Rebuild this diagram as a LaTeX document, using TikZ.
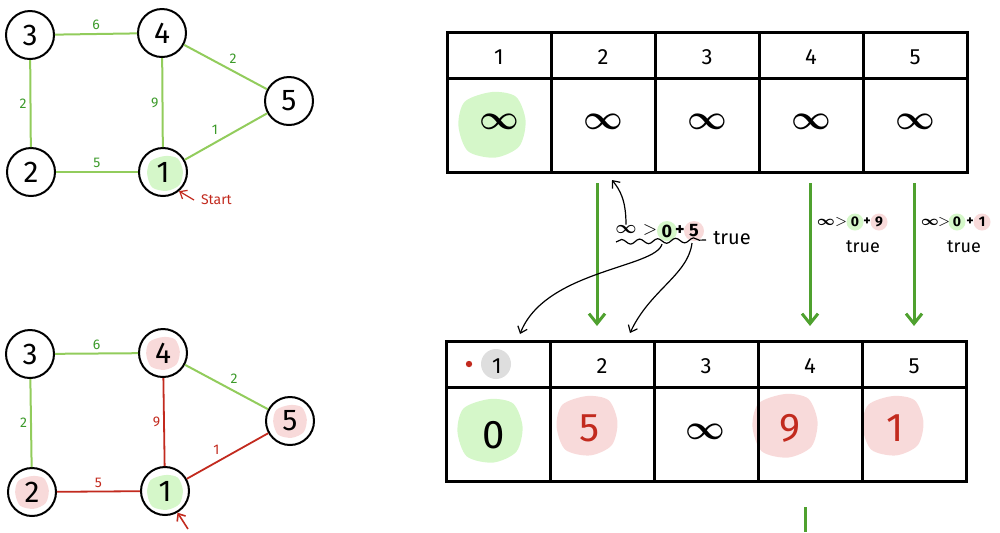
\documentclass[tikz,border=0pt]{standalone}
\usepackage{amsmath}
\usepackage{fontspec}
\setmainfont{Fira Sans}
\usetikzlibrary{arrows.meta,decorations.pathmorphing}
\definecolor{kenarYesil}{HTML}{92CC5C}
\definecolor{etiketYesil}{HTML}{3C9A2A}
\definecolor{okYesil}{HTML}{4FA12F}
\definecolor{koyuKirmizi}{HTML}{C22A1E}
\definecolor{acikPembe}{HTML}{F8DADA}
\definecolor{acikYesil}{HTML}{D5F7C9}
\definecolor{acikGri}{HTML}{DEDEDE}
% lekeli arka plan
\newcommand{\leke}[4]{\fill[#3,shift={(#1,#2)},scale=#4] plot[smooth cycle]
  coordinates {(0,-1) (0.75,-0.85) (1.05,-0.1) (0.85,0.7) (0.1,1.05) (-0.75,0.85) (-1.05,0.05) (-0.85,-0.7)};}

\begin{document}
\begin{tikzpicture}[x=0.5pt,y=-0.5pt,
  dugum/.style={circle,draw,line width=1pt,minimum size=24pt,inner sep=0pt,font=\fontsize{15}{15}\selectfont},
  kenar/.style={kenarYesil,line width=1pt},
  kkenar/.style={koyuKirmizi,line width=0.9pt},
  agirlik/.style={etiketYesil,font=\fontsize{7}{7}\selectfont,inner sep=1.5pt},
  kagirlik/.style={koyuKirmizi,font=\fontsize{7}{7}\selectfont,inner sep=1.5pt},
  tablo/.style={line width=1.5pt},
  baslik/.style={font=\fontsize{11}{11}\selectfont},
  deger/.style={font=\fontsize{20}{20}\selectfont},
  sonsuz/.style={font=\fontsize{17}{17}\selectfont},
  notyazi/.style={font=\fontsize{9}{9}\selectfont,inner sep=0pt},
  kucuk/.style={font=\fontsize{7}{7}\selectfont,inner sep=0pt},
  yok/.style={okYesil,line width=1.5pt,-{Straight Barb[length=5pt,width=8pt]}},
  ince/.style={line width=0.6pt,-{Straight Barb[length=3pt,width=5pt]}}]
\useasboundingbox (0,0) rectangle (1000,532);

% ust graf
\leke{165}{173}{acikYesil}{17}
\foreach \n/\x/\y in {3/30/35,4/162/33,5/289/101,2/31/172,1/163/172}
  \node[dugum] (t\n) at (\x,\y) {\n};
\draw[kenar] (t3) -- node[agirlik,above]{6} (t4);
\draw[kenar] (t3) -- node[agirlik,left]{2} (t2);
\draw[kenar] (t4) -- node[agirlik,left]{9} (t1);
\draw[kenar] (t4) -- node[agirlik,above right]{2} (t5);
\draw[kenar] (t2) -- node[agirlik,above]{5} (t1);
\draw[kenar] (t1) -- node[agirlik,above left,pos=0.45]{1} (t5);
\node[koyuKirmizi,font=\fontsize{7}{7}\selectfont,anchor=west] (start) at (194,200) {Start};
\draw[ince,koyuKirmizi] (start.west) -- (t1.-50);

% alt graf
\leke{165}{492}{acikYesil}{17}
\leke{163}{353}{acikPembe}{16}
\leke{290}{421}{acikPembe}{16}
\leke{32}{492}{acikPembe}{16}
\foreach \n/\x/\y in {3/30/354,4/163/353,5/290/421,2/32/492,1/165/491}
  \node[dugum] (b\n) at (\x,\y) {\n};
\draw[kenar] (b3) -- node[agirlik,above]{6} (b4);
\draw[kenar] (b3) -- node[agirlik,left]{2} (b2);
\draw[kkenar] (b4) -- node[kagirlik,left]{9} (b1);
\draw[kenar] (b4) -- node[agirlik,above right]{2} (b5);
\draw[kkenar] (b2) -- node[kagirlik,above]{5} (b1);
\draw[kkenar] (b1) -- node[kagirlik,above left,pos=0.45]{1} (b5);
\coordinate (bas) at (188,529);
\draw[ince,koyuKirmizi,line width=0.8pt] (bas) -- (b1.-60);

% ust tablo
\leke{492}{124}{acikYesil}{32}
\draw[tablo] (447,32) rectangle (967,172);
\draw[tablo] (447,78) -- (967,78);
\foreach \c in {551,655,759,863}
  \draw[tablo] (\c,32) -- (\c,172);
\foreach \i in {1,...,5} {
  \node[baslik] (th\i) at ({395+104*\i},57) {\i};
  \node[sonsuz] (tv\i) at ({395+104*\i},122) {$\boldsymbol{\infty}$};
}

% alt tablo
\fill[acikGri] (496,364) circle (15);
\fill[koyuKirmizi] (469,364) circle (3.2);
\leke{490}{430}{acikYesil}{31}
\leke{587}{425}{acikPembe}{29}
\leke{785}{425}{acikPembe}{31}
\leke{893}{425}{acikPembe}{29}
\draw[tablo] (446,341) rectangle (966,481);
\draw[tablo] (446,387) -- (966,387);
\foreach \c in {550,654,758,862}
  \draw[tablo] (\c,341) -- (\c,481);
\node[baslik] (bh1) at (497,366) {1};
\foreach \i in {2,...,5}
  \node[baslik] (bh\i) at ({394+104*\i},366) {\i};
\node[deger] (bv1) at (494,435) {0};
\node[deger,koyuKirmizi] (bv2) at (590,428) {5};
\node[sonsuz] (bv3) at (705,432) {$\boldsymbol{\infty}$};
\node[deger,koyuKirmizi] (bv4) at (790,428) {9};
\node[deger,koyuKirmizi] (bv5) at (895,428) {1};

% yesil oklar
\foreach \x in {597,810,914} {
  \coordinate (s\x) at (\x,183);
  \coordinate (e\x) at (\x,326);
  \draw[yok] (s\x) -- (e\x);
}
\coordinate (devam) at (805,507);
\draw[okYesil,line width=1.5pt] (devam) -- (805,532);

% karsilastirma notlari
\fill[acikYesil] (667,231) circle (10);
\fill[acikPembe] (694,231) circle (10);
\node[notyazi] (inf2) at (626,229) {$\boldsymbol{\infty}$};
\node[notyazi] at (650,230) {$>$};
\node[notyazi] at (667,231) {\textbf{0}};
\node[notyazi] at (680,231) {\textbf{+}};
\node[notyazi] at (694,231) {\textbf{5}};
\node[notyazi,font=\fontsize{10}{10}\selectfont] (dogru2) at (732,238) {true};
\draw[line width=0.6pt,decorate,decoration={snake,amplitude=1.2pt,segment length=9pt}] (616,242) -- (706,240);
\coordinate (u1) at (662,244);
\coordinate (u2) at (692,243);
\coordinate (yukari) at (612,180);
\draw[ince] (inf2.north) .. controls (626,200) and (620,190) .. (yukari);
\draw[ince] (u1) .. controls (656,268) and (545,270) .. (520,334);
\draw[ince] (u2) .. controls (688,275) and (650,290) .. (630,333);

\fill[acikYesil] (855,222) circle (8.5);
\fill[acikPembe] (879,222) circle (8.5);
\node[kucuk] (inf4) at (826,222) {$\boldsymbol{\infty}$};
\node[kucuk] at (841,222) {$>$};
\node[kucuk] at (855,222) {\textbf{0}};
\node[kucuk] at (867,222) {\textbf{+}};
\node[kucuk] at (879,222) {\textbf{9}};
\node[notyazi] (dogru4) at (863,247) {true};
\fill[acikYesil] (957,222) circle (8.5);
\fill[acikPembe] (982,222) circle (8.5);
\node[kucuk] (inf5) at (930,222) {$\boldsymbol{\infty}$};
\node[kucuk] at (944,222) {$>$};
\node[kucuk] at (957,222) {\textbf{0}};
\node[kucuk] at (970,222) {\textbf{+}};
\node[kucuk] at (982,222) {\textbf{1}};
\node[notyazi] (dogru5) at (964,247) {true};
\end{tikzpicture}
\end{document}
